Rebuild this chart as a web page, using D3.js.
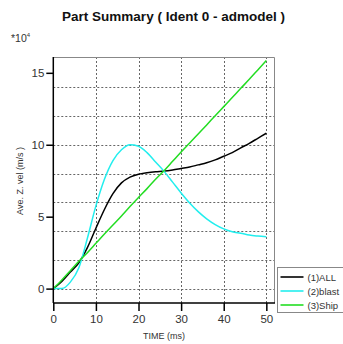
<!DOCTYPE html>
<html>
<head>
<meta charset="utf-8">
<script src="https://cdn.jsdelivr.net/npm/d3@7"></script>
<style>
body { margin: 0; background: #fff; }
svg text { font-family: "Liberation Sans", Arial, sans-serif; }
</style>
</head>
<body>
<div id="container"></div>
<script>
var times = [0, 2, 4, 6, 8, 10, 12, 14, 16, 18, 20, 22, 24, 26, 28, 30, 32, 34, 36, 38, 40, 42, 44, 46, 48, 50];
var allVel = [0, 0.5, 1.15, 1.8, 2.85, 4.2, 5.5, 6.6, 7.35, 7.75, 7.95, 8.05, 8.12, 8.17, 8.25, 8.35, 8.45, 8.6, 8.75, 8.95, 9.2, 9.45, 9.78, 10.1, 10.45, 10.8];
var blastVel = [0, 0, 0.45, 1.45, 3.5, 5.75, 7.6, 8.9, 9.65, 10.0, 9.9, 9.45, 8.8, 8.15, 7.4, 6.65, 5.95, 5.35, 4.85, 4.45, 4.15, 3.95, 3.85, 3.72, 3.65, 3.6];
var shipVel = [0, 0.6, 1.25, 1.9, 2.5, 3.15, 3.8, 4.42, 5.05, 5.7, 6.33, 6.95, 7.6, 8.2, 8.85, 9.5, 10.12, 10.75, 11.38, 12.02, 12.65, 13.28, 13.92, 14.55, 15.2, 15.85];
var seriesNames = ['(1)ALL', '(2)blast', '(3)Ship'];
var seriesColors = ['#000000', '#22eeee', '#22dd22'];
var xTicks = [0, 10, 20, 30, 40, 50];
var yTicks = [0, 5, 10, 15];
var yGrid = [0, 2, 4, 6, 8, 10, 12, 14];
var xGrid = [10, 20, 30, 40, 50];

var width = 343, height = 344;
var plotLeft = 53.3, plotRight = 274, plotTop = 57, plotBottom = 303;

var svg = d3.select('#container')
    .append('svg')
    .attr('width', width)
    .attr('height', height);

var x = d3.scaleLinear().domain([0, 51.8]).range([plotLeft, plotRight]);
var y = d3.scaleLinear().domain([-1, 16.1]).range([plotBottom, plotTop]);

// grid
svg.selectAll('.hgrid')
    .data(yGrid)
    .enter()
    .append('line')
    .attr('x1', plotLeft).attr('x2', plotRight)
    .attr('y1', function(d) { return Math.round(y(d)) + 0.5; })
    .attr('y2', function(d) { return Math.round(y(d)) + 0.5; })
    .style('stroke', '#666')
    .style('stroke-dasharray', '2,2');
svg.selectAll('.vgrid')
    .data(xGrid)
    .enter()
    .append('line')
    .attr('y1', plotTop).attr('y2', plotBottom)
    .attr('x1', function(d) { return Math.round(x(d)) + 0.5; })
    .attr('x2', function(d) { return Math.round(x(d)) + 0.5; })
    .style('stroke', '#666')
    .style('stroke-dasharray', '2,2');

// frame top/right
svg.append('path')
    .attr('d', 'M' + plotLeft + ',' + (plotTop + 0.5) + 'H' + (plotRight + 0.5) + 'V' + plotBottom)
    .style('fill', 'none')
    .style('stroke', '#888');

// curves
var series = [allVel, blastVel, shipVel];
var line = d3.line()
    .x(function(d, i) { return x(times[i]); })
    .y(function(d) { return y(d); })
    .curve(d3.curveMonotoneX);

svg.selectAll('.curve')
    .data(series)
    .enter()
    .append('path')
    .attr('d', line)
    .style('fill', 'none')
    .style('stroke', function(d, i) { return seriesColors[i]; })
    .style('stroke-width', 1.5);

// axes
var yAxis = d3.axisLeft(y).tickValues(yTicks).tickSize(7).tickSizeOuter(0);
var gy = svg.append('g')
    .attr('transform', 'translate(' + plotLeft + ',0)')
    .call(yAxis);
gy.select('.domain').remove();
svg.append('line')
    .attr('x1', plotLeft).attr('x2', plotLeft)
    .attr('y1', plotTop).attr('y2', plotBottom)
    .style('stroke', '#000').style('stroke-width', 1.5);

var xAxis = d3.axisBottom(x).tickValues(xTicks).tickSize(8).tickSizeOuter(0);
var gx = svg.append('g')
    .attr('transform', 'translate(0,' + plotBottom + ')')
    .call(xAxis);
gx.select('.domain').remove();
svg.append('line')
    .attr('x1', plotLeft).attr('x2', plotRight + 1)
    .attr('y1', plotBottom).attr('y2', plotBottom)
    .style('stroke', '#000').style('stroke-width', 1.5);

svg.selectAll('.tick line').style('stroke', '#000').style('stroke-width', 1.5);
svg.selectAll('.tick text')
    .style('font-size', '11.5px')
    .style('fill', '#333');
gy.selectAll('.tick text').attr('x', -9);
gx.selectAll('.tick text').attr('y', 12);

// title and labels
svg.append('text')
    .text('Part Summary ( Ident 0 - admodel )')
    .attr('x', 173.5).attr('y', 21)
    .attr('text-anchor', 'middle')
    .style('font-size', '13.5px')
    .style('font-weight', 'bold')
    .style('fill', '#111');

var mult = svg.append('text')
    .attr('x', 11).attr('y', 42)
    .style('font-size', '10.5px')
    .style('fill', '#333');
mult.append('tspan').text('*10');
mult.append('tspan').text('4').attr('dy', -5).style('font-size', '6px');

svg.append('text')
    .text('TIME (ms)')
    .attr('x', 164).attr('y', 339)
    .attr('text-anchor', 'middle')
    .style('font-size', '9px')
    .style('fill', '#333');

svg.append('text')
    .text('Ave. Z. vel (m/s )')
    .attr('transform', 'translate(23,181) rotate(-90)')
    .attr('text-anchor', 'middle')
    .style('font-size', '9px')
    .style('fill', '#333');

// legend
var legend = svg.append('g').attr('transform', 'translate(277.5,267.5)');
legend.append('rect')
    .attr('width', 70).attr('height', 45)
    .style('fill', '#fff')
    .style('stroke', '#888');
var item = legend.selectAll('.item')
    .data(seriesNames)
    .enter()
    .append('g')
    .attr('transform', function(d, i) { return 'translate(0,' + (9.5 + i * 14) + ')'; });
item.append('line')
    .attr('x1', 3).attr('x2', 26)
    .style('stroke', function(d, i) { return seriesColors[i]; })
    .style('stroke-width', 1.6);
item.append('text')
    .text(function(d) { return d; })
    .attr('x', 30).attr('dy', 3.5)
    .style('font-size', '9.5px')
    .style('fill', '#333');
</script>
</body>
</html>
